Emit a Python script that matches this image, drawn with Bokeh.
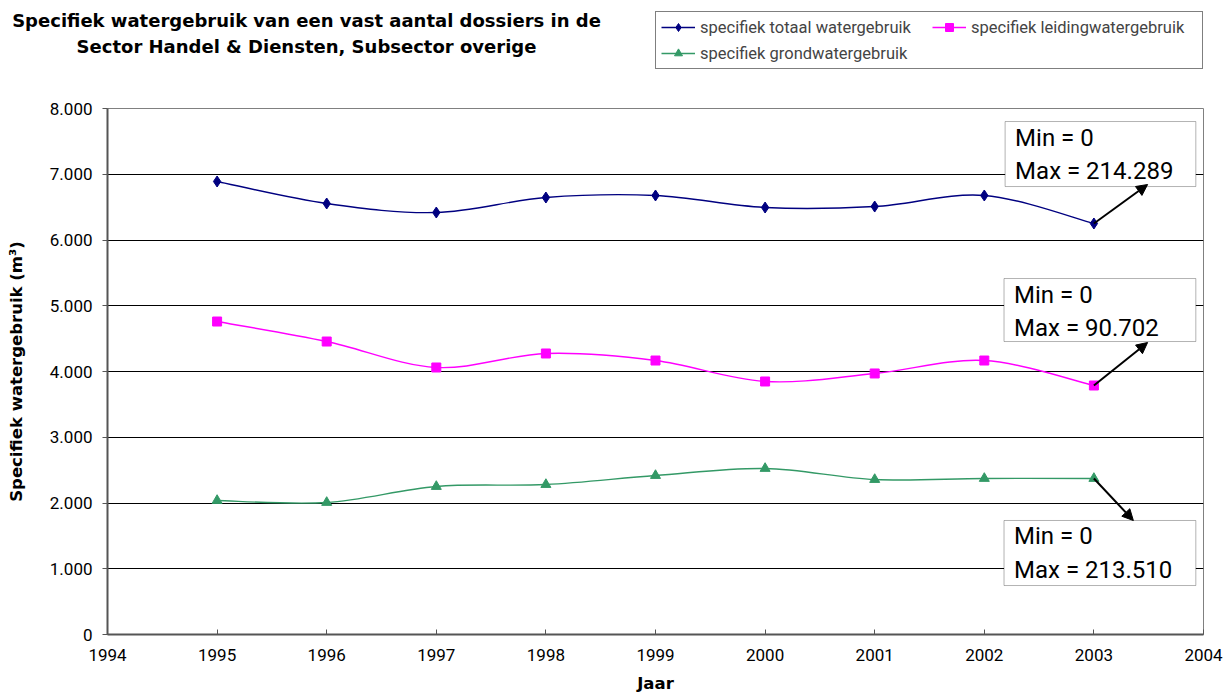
from bokeh.plotting import figure
from bokeh.layouts import column
from bokeh.models import (Label, Legend, LegendItem, Arrow, NormalHead, FixedTicker,
                          CustomJSTickFormatter, Range1d, BoxAnnotation)
from bokeh.embed import file_html
from bokeh.resources import INLINE

years = [1995, 1996, 1997, 1998, 1999, 2000, 2001, 2002, 2003]
totaal = [6890, 6555, 6418, 6646, 6677, 6494, 6509, 6677, 6251]
leiding = [4760, 4456, 4061, 4274, 4167, 3848, 3970, 4167, 3787]
grond = [2038, 2008, 2251, 2281, 2418, 2525, 2357, 2373, 2373]
series_names = ["specifiek totaal watergebruik", "specifiek leidingwatergebruik",
                "specifiek grondwatergebruik"]
max_labels = ["Min = 0\nMax = 214.289", "Min = 0\nMax = 90.702", "Min = 0\nMax = 213.510"]
y_ticks = [0, 1000, 2000, 3000, 4000, 5000, 6000, 7000, 8000]
x_ticks = list(range(1994, 2005))
title_lines = ["Specifiek watergebruik van een vast aantal dossiers in de",
               "Sector Handel & Diensten, Subsector overige"]

FONT = "Roboto"
BFONT = "DejaVu Sans"
colors = ["#000080", "#FF00FF", "#339966"]
markers = ["diamond", "square", "triangle"]
msizes = [11, 9, 10]
series = [totaal, leiding, grond]

# ---------- header (title + legend) ----------
W, HT = 1223, 88
head = figure(width=W, height=HT, output_backend="svg", toolbar_location=None,
              x_range=Range1d(0, W), y_range=Range1d(0, HT),
              min_border=0, min_border_left=0, min_border_right=0,
              min_border_top=0, min_border_bottom=0,
              x_axis_type=None, y_axis_type=None)
head.frame_align = False
head.outline_line_color = None
head.grid.visible = False
for i, t in enumerate(title_lines):
    head.add_layout(Label(x=306, y=HT - 20 - 26 * i, text=t, text_align="center",
                          text_baseline="middle", text_font=BFONT,
                          text_font_size="18px", text_font_style="bold",
                          text_color="black"))
items = []
for ys, c, m, ms, name in zip(series, colors, markers, msizes, series_names):
    # legend proxies: the series' first points, which lie outside the header's range
    lr = head.line(x=years[:2], y=ys[:2], line_color=c, line_width=1.3)
    sr = head.scatter(x=years[:1], y=ys[:1], marker=m, size=ms, fill_color=c, line_color=c)
    items.append(LegendItem(label=name, renderers=[lr, sr]))
legend = Legend(items=items, location=(655, HT - 69), orientation="horizontal", ncols=2,
                border_line_color="black", border_line_width=1,
                label_text_font=FONT, label_text_font_size="16.5px",
                glyph_width=34, glyph_height=20, label_height=20, label_standoff=5,
                label_width=226, spacing=6, padding=5, margin=0,
                background_fill_alpha=1)
head.add_layout(legend, "center")

# ---------- main chart ----------
p = figure(width=W, height=695 - HT, output_backend="svg", toolbar_location=None,
           x_range=Range1d(1994, 2004), y_range=Range1d(0, 8000),
           min_border_left=107, min_border_right=20, min_border_top=108 - HT,
           min_border_bottom=61)
p.frame_align = False
p.outline_line_color = "#808080"
p.background_fill_color = "white"
p.border_fill_color = "white"
p.xgrid.grid_line_color = None
p.ygrid.grid_line_color = "#000000"
p.ygrid.grid_line_width = 1

p.xaxis.ticker = FixedTicker(ticks=x_ticks)
p.yaxis.ticker = FixedTicker(ticks=y_ticks)
p.yaxis.formatter = CustomJSTickFormatter(code="""
  if (tick == 0) return '0';
  const t = Math.round(tick);
  return Math.floor(t/1000) + '.' + String(t % 1000).padStart(3, '0');
""")
for ax in (p.xaxis[0], p.yaxis[0]):
    ax.axis_line_color = "#555555"
    ax.axis_line_width = 2
    ax.major_tick_line_color = "#555555"
    ax.minor_tick_line_color = None
    ax.major_label_text_font = FONT
    ax.major_label_text_font_size = "17px"
    ax.major_label_text_color = "black"
    ax.axis_label_text_font = BFONT
    ax.axis_label_text_font_size = "16.5px"
    ax.axis_label_text_font_style = "bold"
    ax.axis_label_text_color = "black"
p.yaxis.major_tick_out = 5
p.yaxis.major_tick_in = 0
p.xaxis.major_tick_out = 0
p.xaxis.major_tick_in = 5
p.xaxis.axis_label = "Jaar"
p.yaxis.axis_label = "Specifiek watergebruik (m³)"
p.xaxis.major_label_standoff = 14
p.yaxis.major_label_standoff = 10
p.xaxis.axis_label_standoff = 10
p.yaxis.axis_label_standoff = 21


def smooth(xs, ys):
    n = len(xs)
    x0, y0, x1, y1, cx0, cy0, cx1, cy1 = [], [], [], [], [], [], [], []
    for i in range(n - 1):
        pa = (xs[max(i - 1, 0)], ys[max(i - 1, 0)])
        pb = (xs[i], ys[i])
        pc = (xs[i + 1], ys[i + 1])
        pd = (xs[min(i + 2, n - 1)], ys[min(i + 2, n - 1)])
        x0.append(pb[0]); y0.append(pb[1]); x1.append(pc[0]); y1.append(pc[1])
        cx0.append(pb[0] + (pc[0] - pa[0]) / 6); cy0.append(pb[1] + (pc[1] - pa[1]) / 6)
        cx1.append(pc[0] - (pd[0] - pb[0]) / 6); cy1.append(pc[1] - (pd[1] - pb[1]) / 6)
    return dict(x0=x0, y0=y0, x1=x1, y1=y1, cx0=cx0, cy0=cy0, cx1=cx1, cy1=cy1)


for ys, c, m, ms in zip(series, colors, markers, msizes):
    d = smooth(years, ys)
    p.bezier(x0=d["x0"], y0=d["y0"], x1=d["x1"], y1=d["y1"], cx0=d["cx0"], cy0=d["cy0"],
             cx1=d["cx1"], cy1=d["cy1"], line_color=c, line_width=1.4)
    p.scatter(x=years, y=ys, marker=m, size=ms, fill_color=c, line_color=c)

# annotation boxes (left, top, right, bottom) and arrow tips
box_left = [2002.19, 2002.18, 2002.18]
box_top = [7802, 5414, 1734]
box_right = [2003.93, 2003.93, 2003.93]
box_bottom = [6813, 4456, 745]
tip_x = [2003.49, 2003.49, 2003.36]
tip_y = [6844, 4441, 1734]
series_last = [ys[-1] for ys in series]
for bl, bt, br, bb, tx, ty, ly, txt in zip(box_left, box_top, box_right, box_bottom,
                                           tip_x, tip_y, series_last, max_labels):
    p.add_layout(BoxAnnotation(left=bl, right=br, top=bt, bottom=bb,
                               fill_color="white", fill_alpha=1,
                               line_color="black", line_width=1))
    p.add_layout(Label(x=bl, y=bt, x_offset=10, y_offset=-2, text=txt, anchor="top_left",
                       text_font=FONT, text_font_size="24px", text_color="black",
                       text_line_height=1.2))
    p.add_layout(Arrow(x_start=years[-1], y_start=ly, x_end=tx, y_end=ty,
                       line_color="black", line_width=2,
                       end=NormalHead(size=11, fill_color="black", line_color="black")))

layout = column(head, p, spacing=0)
open("out.html", "w").write(file_html(layout, INLINE))
